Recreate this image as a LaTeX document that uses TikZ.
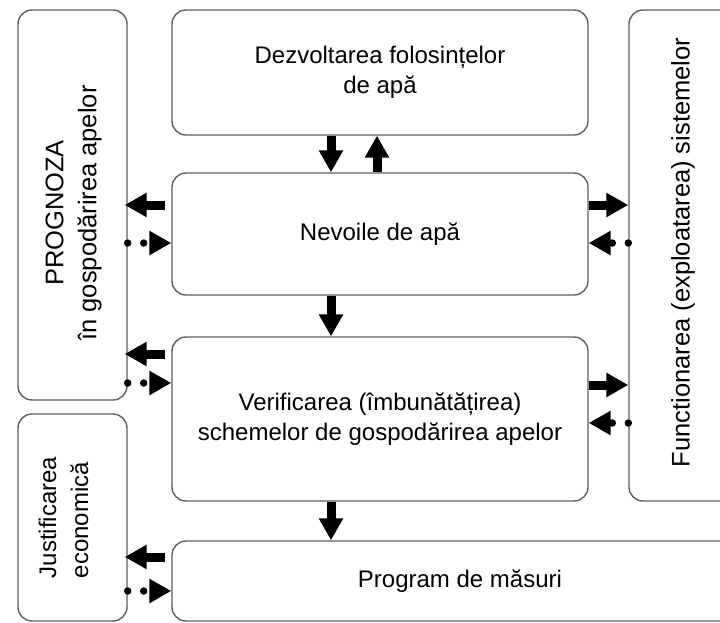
\documentclass[tikz,border=0pt]{standalone}
\usepackage{fontspec}
\setmainfont{Liberation Sans}
\usetikzlibrary{arrows.meta}
\definecolor{boxgray}{HTML}{5E5E5E}
\begin{document}
\begin{tikzpicture}[x=1pt,y=-1pt,
  txt/.style={font=\fontsize{24}{30}\selectfont},
  box/.style={draw=boxgray, line width=1.4pt, rounded corners=14pt, inner sep=0pt,
              align=center, txt},
  vtext/.style={rotate=90, align=center, font=\fontsize{25.5}{33}\selectfont},
  bigarrow/.style={line width=9pt, -{Triangle[length=22pt,width=23pt]}},
  dotarrow/.style={line width=7.5pt, line cap=round, dash pattern=on 0pt off 16pt,
                   -{Triangle[length=22pt,width=23pt]}},
]
\useasboundingbox (0,0) rectangle (720,622);
\clip (0,0) rectangle (720,622);

% side boxes (label shifts are in the rotated frame)
\node[box, minimum width=109pt, minimum height=390pt,
      label={[vtext, xshift=-8pt, yshift=-1pt]center:{PROGNOZA\\în gospodărirea apelor}}] (prog) at (72.5,205) {};
\node[box, minimum width=109pt, minimum height=207pt,
      label={[vtext, align=left, yshift=9pt, font=\fontsize{24}{32}\selectfont]center:{Justificarea\\economică}}] (just) at (72.5,517.5) {};
\node[box, minimum width=108pt, minimum height=491pt,
      label={[vtext, xshift=3pt]center:{Functionarea (exploatarea) sistemelor}}] (func) at (683,255.5) {};

% central column
\node[box, minimum width=416pt, minimum height=125pt] (dezv) at (380,72.5)
  {Dezvoltarea folosințelor\\de apă};
\node[box, minimum width=416pt, minimum height=122pt] (nev) at (380,234)
  {Nevoile de apă};
\node[box, minimum width=416pt, minimum height=164pt] (verif) at (380,419)
  {Verificarea (îmbunătățirea)\\schemelor de gospodărirea apelor};
\node[box, minimum width=576pt, minimum height=80pt] (progm) at (460,581)
  {Program de măsuri};

% levels used by the connectors
\coordinate (xd) at (331,0);
\coordinate (xu) at (377,0);
\coordinate (y1) at (0,205);
\coordinate (y2) at (0,243);
\coordinate (y3) at (0,354);
\coordinate (y4) at (0,383);
\coordinate (y5) at (0,557);
\coordinate (y6) at (0,591);
\coordinate (y7) at (0,385);
\coordinate (y8) at (0,423);

% vertical flow
\draw[bigarrow] (dezv.south -| xd) -- (nev.north -| xd);
\draw[bigarrow] (nev.north -| xu) -- (dezv.south -| xu);
\draw[bigarrow] (nev.south -| xd) -- (verif.north -| xd);
\draw[bigarrow] (verif.south -| xd) -- (progm.north -| xd);

% links to the left boxes
\draw[bigarrow, shorten <=6pt, shorten >=-3pt] (nev.west |- y1) -- (prog.east |- y1);
\draw[dotarrow] (prog.east |- y2) -- (nev.west |- y2);
\draw[bigarrow, shorten <=6pt, shorten >=-3pt] (verif.west |- y3) -- (prog.east |- y3);
\draw[dotarrow] (prog.east |- y4) -- (verif.west |- y4);
\draw[bigarrow, shorten <=6pt, shorten >=-3pt] (progm.west |- y5) -- (just.east |- y5);
\draw[dotarrow] (just.east |- y6) -- (progm.west |- y6);

% links to the right box
\draw[bigarrow] (nev.east |- y1) -- (func.west |- y1);
\draw[dotarrow] (func.west |- y2) -- (nev.east |- y2);
\draw[bigarrow] (verif.east |- y7) -- (func.west |- y7);
\draw[dotarrow] (func.west |- y8) -- (verif.east |- y8);
\end{tikzpicture}
\end{document}
